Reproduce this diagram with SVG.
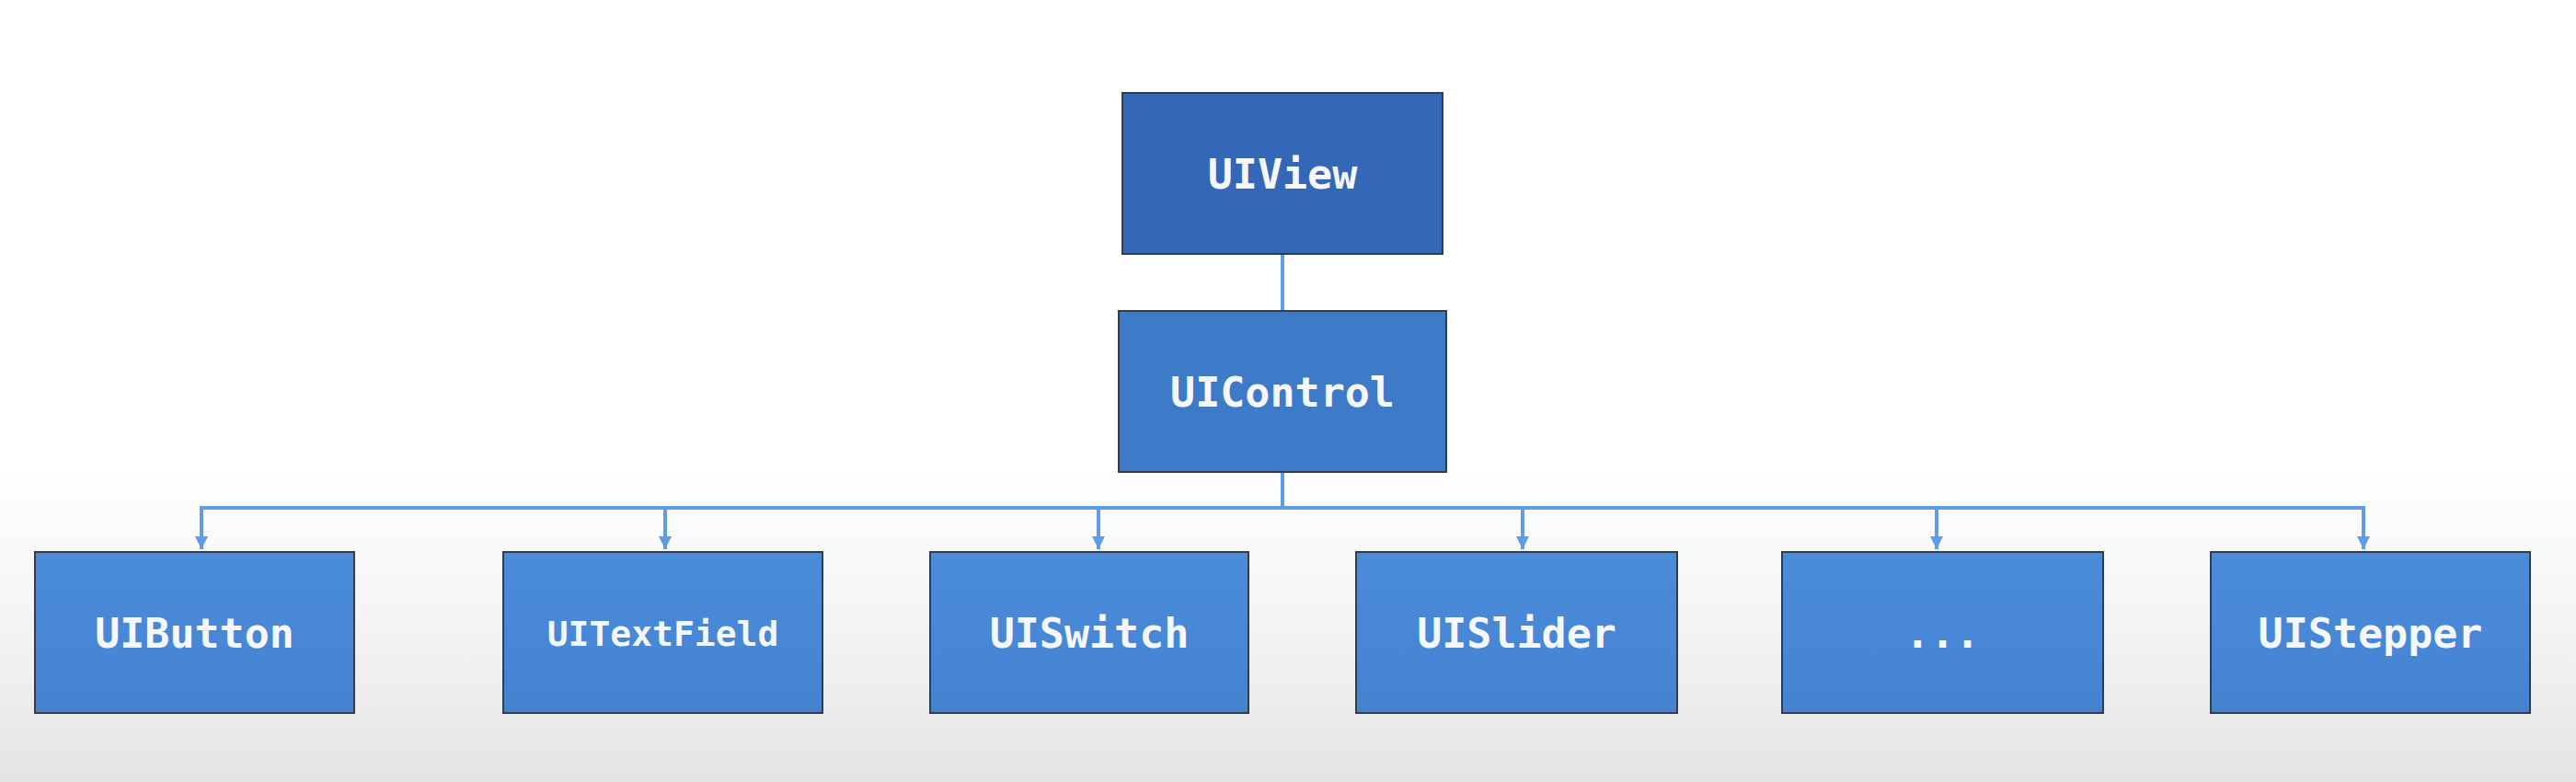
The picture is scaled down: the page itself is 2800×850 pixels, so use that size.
<svg xmlns="http://www.w3.org/2000/svg" width="2800" height="850" viewBox="0 0 2800 850">
<defs>
<linearGradient id="bg" x1="0" y1="0" x2="0" y2="1">
<stop offset="0" stop-color="#ffffff"/>
<stop offset="0.6" stop-color="#ffffff"/>
<stop offset="0.8" stop-color="#f4f4f4"/>
<stop offset="1" stop-color="#e4e4e4"/>
</linearGradient>
<linearGradient id="leaf" x1="0" y1="0" x2="0" y2="1">
<stop offset="0" stop-color="#4a8cda"/>
<stop offset="1" stop-color="#4583d1"/>
</linearGradient>
<marker id="arr" viewBox="0 0 10 10" refX="10" refY="5" markerWidth="3.5" markerHeight="3.5" markerUnits="strokeWidth" orient="auto">
<path d="M0,0 L10,5 L0,10 z" fill="#5f9ce6"/>
</marker>
<style>
.box{stroke:#2f3d52;stroke-width:2}
.top{fill:#3467b6}
.mid{fill:#3d7ac8}
.leaf{fill:url(#leaf)}
.lbl{font-family:"DejaVu Sans Mono","Liberation Mono",monospace;font-weight:bold;font-size:45px;fill:#f5f7fb;text-anchor:middle}
.small{font-size:38px}
.ln{stroke:#5f9ce6;stroke-width:4;fill:none}
</style>
</defs>
<rect x="0" y="0" width="2800" height="850" fill="url(#bg)"/>
<g id="connectors">
<line class="ln" x1="1394" y1="276" x2="1394" y2="338"/>
<line class="ln" x1="1394" y1="513" x2="1394" y2="552"/>
<polyline class="ln" points="219,597 219,552 2569,552 2569,597"/>
<line class="ln" x1="219" y1="552" x2="219" y2="597" marker-end="url(#arr)"/>
<line class="ln" x1="723" y1="552" x2="723" y2="597" marker-end="url(#arr)"/>
<line class="ln" x1="1194" y1="552" x2="1194" y2="597" marker-end="url(#arr)"/>
<line class="ln" x1="1655" y1="552" x2="1655" y2="597" marker-end="url(#arr)"/>
<line class="ln" x1="2105" y1="552" x2="2105" y2="597" marker-end="url(#arr)"/>
<line class="ln" x1="2569" y1="552" x2="2569" y2="597" marker-end="url(#arr)"/>
</g>
<g id="uiview">
<rect class="box top" x="1220" y="101" width="348" height="175"/>
<text class="lbl" x="1394" y="205">UIView</text>
</g>
<g id="uicontrol">
<rect class="box mid" x="1216" y="338" width="356" height="175"/>
<text class="lbl" x="1394" y="442">UIControl</text>
</g>
<g id="uibutton">
<rect class="box leaf" x="38" y="600" width="347" height="175"/>
<text class="lbl" x="211.5" y="704">UIButton</text>
</g>
<g id="uitextfield">
<rect class="box leaf" x="547" y="600" width="347" height="175"/>
<text class="lbl small" x="720.5" y="702">UITextField</text>
</g>
<g id="uiswitch">
<rect class="box leaf" x="1011" y="600" width="346" height="175"/>
<text class="lbl" x="1184" y="704">UISwitch</text>
</g>
<g id="uislider">
<rect class="box leaf" x="1474" y="600" width="349" height="175"/>
<text class="lbl" x="1648.5" y="704">UISlider</text>
</g>
<g id="more">
<rect class="box leaf" x="1937" y="600" width="349" height="175"/>
<text class="lbl" x="2111.5" y="704">...</text>
</g>
<g id="uistepper">
<rect class="box leaf" x="2403" y="600" width="347" height="175"/>
<text class="lbl" x="2576.5" y="704">UIStepper</text>
</g>
</svg>
